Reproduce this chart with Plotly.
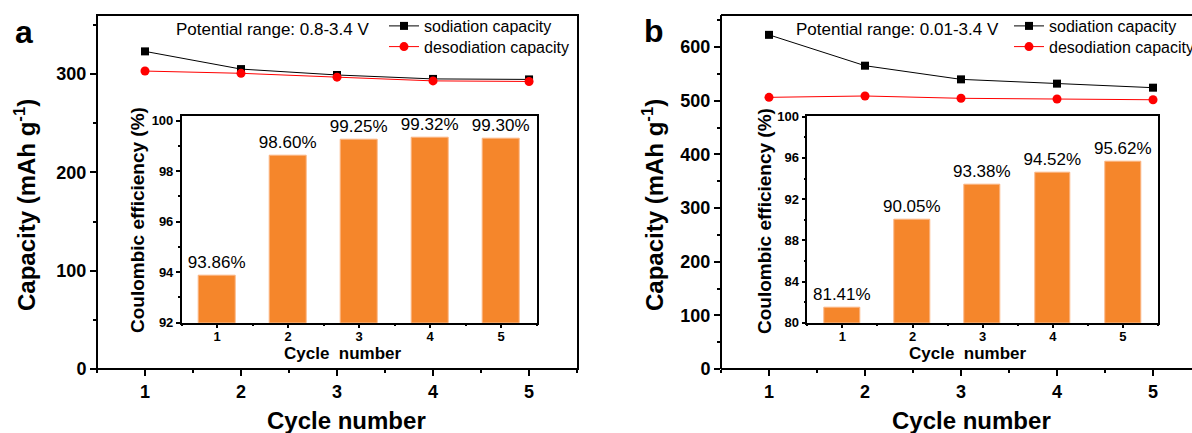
import plotly.graph_objects as go

# ---------------- data ----------------
cycles = [1, 2, 3, 4, 5]
sod_a = [323, 305, 299, 295, 294.5]
desod_a = [303, 300.7, 296.8, 293, 292.4]
ce_a = [93.86, 98.60, 99.25, 99.32, 99.30]

sod_b = [623, 565.5, 540, 532, 524.5]
desod_b = [506.5, 509, 504.7, 503.4, 502]
ce_b = [81.41, 90.05, 93.38, 94.52, 95.62]

ce_a_labels = [f"{v:.2f}%" for v in ce_a]
ce_b_labels = [f"{v:.2f}%" for v in ce_b]

# ---------------- geometry helpers ----------------
W, H = 1192, 433
FONT = "Liberation Sans, Arial, sans-serif"
BAR_COLOR = "#F5862B"
BAR_EDGE = "#FBB583"


def px(x):
    return x / W


def py(y):
    return 1 - y / H


fig = go.Figure()

# panel a main
fig.add_trace(go.Scatter(x=cycles, y=sod_a, mode="lines+markers", name="sodiation capacity",
                         line=dict(color="black", width=1),
                         marker=dict(symbol="square", size=8, color="black"),
                         xaxis="x", yaxis="y", legend="legend"))
fig.add_trace(go.Scatter(x=cycles, y=desod_a, mode="lines+markers", name="desodiation capacity",
                         line=dict(color="#FF0000", width=1),
                         marker=dict(symbol="circle", size=9, color="#FF0000"),
                         xaxis="x", yaxis="y", legend="legend2"))
# inset a
fig.add_trace(go.Bar(x=cycles, y=ce_a, text=ce_a_labels, textposition="outside",
                     constraintext="none", cliponaxis=False, width=0.52,
                     textfont=dict(family=FONT, size=17, color="black"),
                     marker=dict(color=BAR_COLOR, line=dict(color=BAR_EDGE, width=1)),
                     xaxis="x2", yaxis="y2", showlegend=False))
# panel b main
fig.add_trace(go.Scatter(x=cycles, y=sod_b, mode="lines+markers", name="sodiation capacity",
                         line=dict(color="black", width=1),
                         marker=dict(symbol="square", size=8, color="black"),
                         xaxis="x3", yaxis="y3", legend="legend3"))
fig.add_trace(go.Scatter(x=cycles, y=desod_b, mode="lines+markers", name="desodiation capacity",
                         line=dict(color="#FF0000", width=1),
                         marker=dict(symbol="circle", size=9, color="#FF0000"),
                         xaxis="x3", yaxis="y3", legend="legend4"))
# inset b
fig.add_trace(go.Bar(x=cycles, y=ce_b, text=ce_b_labels, textposition="outside",
                     constraintext="none", cliponaxis=False, width=0.51,
                     textfont=dict(family=FONT, size=17, color="black"),
                     marker=dict(color=BAR_COLOR, line=dict(color=BAR_EDGE, width=1)),
                     xaxis="x4", yaxis="y4", showlegend=False))


def main_axis(**kw):
    d = dict(showline=False, mirror=False,
             ticks="outside", ticklen=6, tickwidth=2, tickcolor="black",
             showgrid=False, zeroline=False,
             tickfont=dict(family=FONT, size=18, color="black", weight="bold"))
    d.update(kw)
    return d


def inset_axis(**kw):
    d = dict(showline=True, linewidth=1.5, linecolor="black", mirror=True,
             ticks="outside", ticklen=4, tickwidth=1.5, tickcolor="black",
             showgrid=False, zeroline=False,
             tickfont=dict(family=FONT, size=13, color="black", weight="bold"))
    d.update(kw)
    return d


def legend_at(x, y):
    return dict(x=px(x), y=py(y), xanchor="left", yanchor="top",
                bgcolor="rgba(0,0,0,0)", borderwidth=0,
                font=dict(family=FONT, size=16, color="black"))


A_X = [px(97), px(578)]
B_X = [px(721), 1.0]
main_y_dom = [py(369), py(15)]
inset_y_dom = [py(322.7), py(115.7)]

fig.update_layout(
    width=W, height=H,
    margin=dict(l=0, r=0, t=0, b=0, autoexpand=False),
    paper_bgcolor="white", plot_bgcolor="rgba(0,0,0,0)",
    font=dict(family=FONT, color="black"),
    bargap=0,
    xaxis=main_axis(domain=A_X, range=[0.5, 5.51], anchor="y",
                    tickmode="linear", tick0=1, dtick=1,
                    minor=dict(ticks="outside", ticklen=3, tickwidth=2, tickcolor="black",
                               tick0=0.5, dtick=0.5, showgrid=False)),
    yaxis=main_axis(domain=main_y_dom, range=[0, 360], anchor="x",
                    tickmode="linear", tick0=0, dtick=100,
                    minor=dict(ticks="outside", ticklen=3, tickwidth=2, tickcolor="black",
                               tick0=0, dtick=50, showgrid=False)),
    xaxis2=inset_axis(domain=[px(181.7), px(536.5)], range=[0.5, 5.5], anchor="y2",
                      tickmode="linear", tick0=1, dtick=1, ticklabelstandoff=-3,
                      minor=dict(ticks="outside", ticklen=2, tickwidth=1.5, tickcolor="black",
                                 tick0=0.5, dtick=0.5, showgrid=False)),
    yaxis2=inset_axis(domain=inset_y_dom, range=[92, 100.2], anchor="x2",
                      tickmode="linear", tick0=92, dtick=2,
                      minor=dict(ticks="outside", ticklen=2, tickwidth=1.5, tickcolor="black",
                                 tick0=92, dtick=1, showgrid=False)),
    xaxis3=main_axis(domain=B_X, range=[0.5, 5.406], anchor="y3",
                     tickmode="linear", tick0=1, dtick=1,
                     minor=dict(ticks="outside", ticklen=3, tickwidth=2, tickcolor="black",
                                tick0=0.5, dtick=0.5, showgrid=False)),
    yaxis3=main_axis(domain=main_y_dom, range=[0, 660], anchor="x3",
                     tickmode="linear", tick0=0, dtick=100,
                     minor=dict(ticks="outside", ticklen=3, tickwidth=2, tickcolor="black",
                                tick0=0, dtick=50, showgrid=False)),
    xaxis4=inset_axis(domain=[px(807.3), px(1158)], range=[0.5, 5.5], anchor="y4",
                      tickmode="linear", tick0=1, dtick=1, ticklabelstandoff=-3,
                      minor=dict(ticks="outside", ticklen=2, tickwidth=1.5, tickcolor="black",
                                 tick0=0.5, dtick=0.5, showgrid=False)),
    yaxis4=inset_axis(domain=inset_y_dom, range=[80, 100.1], anchor="x4",
                      tickmode="linear", tick0=80, dtick=4,
                      minor=dict(ticks="outside", ticklen=2, tickwidth=1.5, tickcolor="black",
                                 tick0=80, dtick=2, showgrid=False)),
    legend=legend_at(384, 9),
    legend2=legend_at(384, 29.7),
    legend3=legend_at(1009, 9),
    legend4=legend_at(1009, 29.7),
)

# frames of the main panels, drawn on the paper at the subplot domains
# (panel b is cut at the right edge of the picture, so it has no right side)
FRAME = dict(color="black", width=2)
shapes = [
    dict(type="rect", xref="paper", yref="paper", x0=A_X[0], x1=A_X[1],
         y0=main_y_dom[0], y1=main_y_dom[1], line=FRAME,
         fillcolor="rgba(0,0,0,0)", layer="above"),
    dict(type="line", xref="paper", yref="paper", x0=B_X[0], x1=B_X[0],
         y0=main_y_dom[0], y1=main_y_dom[1], line=FRAME, layer="above"),
    dict(type="line", xref="paper", yref="paper", x0=B_X[0], x1=B_X[1],
         y0=main_y_dom[0], y1=main_y_dom[0], line=FRAME, layer="above"),
    dict(type="line", xref="paper", yref="paper", x0=B_X[0], x1=B_X[1],
         y0=main_y_dom[1], y1=main_y_dom[1], line=FRAME, layer="above"),
]
fig.update_layout(shapes=shapes)

ann = []


def add_text(text, x, y, size, bold=False, angle=0):
    ann.append(dict(text=text, x=px(x), y=py(y), xref="paper", yref="paper",
                    xanchor="center", yanchor="middle", showarrow=False, textangle=angle,
                    font=dict(family=FONT, size=size, color="black",
                              weight="bold" if bold else "normal")))


# panel letters
add_text("a", 24, 32, 32, bold=True)
add_text("b", 654, 30.7, 32, bold=True)
# potential range notes
add_text("Potential range: 0.8-3.4 V", 272.5, 29, 17)
add_text("Potential range: 0.01-3.4 V", 897, 29, 17)
# main axis titles
add_text("Capacity (mAh g<sup>-1</sup>)", 25, 205, 24, bold=True, angle=-90)
add_text("Capacity (mAh g<sup>-1</sup>)", 653, 205, 24, bold=True, angle=-90)
add_text("Cycle number", 346.5, 420, 24, bold=True)
add_text("Cycle number", 971, 420, 24, bold=True)
# inset axis titles
add_text("Coulombic efficiency (%)", 137, 220, 19, bold=True, angle=-90)
add_text("Coulombic efficiency (%)", 764, 221, 19, bold=True, angle=-90)
add_text("Cycle\u00a0\u00a0number", 342.5, 353, 17, bold=True)
add_text("Cycle\u00a0\u00a0number", 967.5, 353, 17, bold=True)

fig.update_layout(annotations=ann)

fig.write_html("out.html", config={"displayModeBar": False},
               post_script="document.body.style.margin='0';document.body.style.overflow='hidden';")
